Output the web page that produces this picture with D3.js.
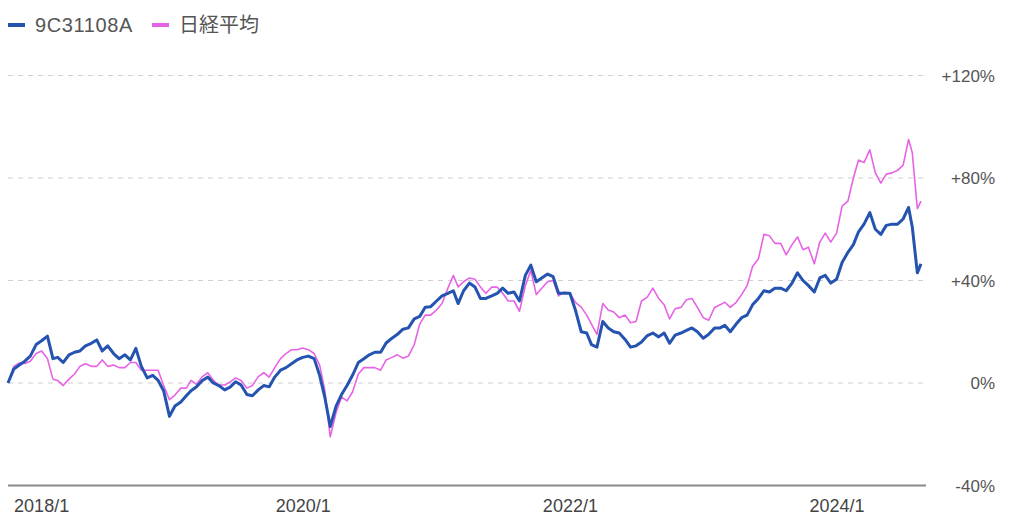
<!DOCTYPE html>
<html><head><meta charset="utf-8">
<script src="https://cdn.jsdelivr.net/npm/d3@7"></script>
<style>
body{margin:0;background:#fff}
svg{display:block}
text{font-family:"Liberation Sans",Arial,"Noto Sans CJK JP",sans-serif}
</style>
</head><body>
<svg id="chart" width="1024" height="524"></svg>
<script>
const seriesNames = ["9C31108A", "日経平均"];
const dates = [
"2017-10-16","2017-11-01","2017-11-16","2017-12-01","2017-12-16",
"2018-01-01","2018-01-16","2018-02-01","2018-02-16","2018-03-01","2018-03-16","2018-04-01","2018-04-16","2018-05-01","2018-05-16","2018-06-01","2018-06-16",
"2018-07-01","2018-07-16","2018-08-01","2018-08-16","2018-09-01","2018-09-16","2018-10-01","2018-10-16","2018-11-01","2018-11-16","2018-12-01","2018-12-16",
"2019-01-01","2019-01-16","2019-02-01","2019-02-16","2019-03-01","2019-03-16","2019-04-01","2019-04-16","2019-05-01","2019-05-16","2019-06-01","2019-06-16",
"2019-07-01","2019-07-16","2019-08-01","2019-08-16","2019-09-01","2019-09-16","2019-10-01","2019-10-16","2019-11-01","2019-11-16","2019-12-01","2019-12-16",
"2020-01-01","2020-01-16","2020-02-01","2020-02-16","2020-03-01","2020-03-16","2020-04-01","2020-04-16","2020-05-01","2020-05-16","2020-06-01","2020-06-16",
"2020-07-01","2020-07-16","2020-08-01","2020-08-16","2020-09-01","2020-09-16","2020-10-01","2020-10-16","2020-11-01","2020-11-16","2020-12-01","2020-12-16",
"2021-01-01","2021-01-16","2021-02-01","2021-02-16","2021-03-01","2021-03-16","2021-04-01","2021-04-16","2021-05-01","2021-05-16","2021-06-01","2021-06-16",
"2021-07-01","2021-07-16","2021-08-01","2021-08-16","2021-09-01","2021-09-16","2021-10-01","2021-10-16","2021-11-01","2021-11-16","2021-12-01","2021-12-16",
"2022-01-01","2022-01-16","2022-02-01","2022-02-16","2022-03-01","2022-03-16","2022-04-01","2022-04-16","2022-05-01","2022-05-16","2022-06-01","2022-06-16",
"2022-07-01","2022-07-16","2022-08-01","2022-08-16","2022-09-01","2022-09-16","2022-10-01","2022-10-16","2022-11-01","2022-11-16","2022-12-01","2022-12-16",
"2023-01-01","2023-01-16","2023-02-01","2023-02-16","2023-03-01","2023-03-16","2023-04-01","2023-04-16","2023-05-01","2023-05-16","2023-06-01","2023-06-16",
"2023-07-01","2023-07-16","2023-08-01","2023-08-16","2023-09-01","2023-09-16","2023-10-01","2023-10-16","2023-11-01","2023-11-16","2023-12-01","2023-12-16",
"2024-01-01","2024-01-16","2024-02-01","2024-02-16","2024-03-01","2024-03-16","2024-04-01","2024-04-16","2024-05-01","2024-05-16","2024-06-01","2024-06-16",
"2024-07-01","2024-07-16","2024-07-26","2024-08-09","2024-08-19"
];
const fundValues = [
0,5.5,7,8.5,10.5,
15,16.5,18.3,9.5,10,8,11,12,12.5,14.5,15.5,16.8,
12.5,14.5,11.5,9.5,11,9,13.5,6.5,2,3,1,-3,
-13,-9,-7.4,-5,-3,-1.5,1,2.3,0,-1,-2.7,-1.6,
0.5,-0.8,-4.5,-5,-2.7,-1,-1.5,2.3,5,6,7.5,9,
10,10.5,9.5,3,-5.5,-17,-9,-4.5,-1,3,8,9.5,
11,12,12,15.6,17.5,19,21,21.5,25,26,29.6,29.8,
32,34,35,36,31,36,39,37.5,33,33,34,35,
37,35,35.5,32,42,46,39.5,41,42.5,41.5,35,35,
35,28.5,20,19.5,15,14,24,21.5,20,19.5,17,14,
14.5,16,18.5,19.5,18,19.5,15.5,18.7,19.5,20.5,21.5,20,
17.5,19,21.5,21.5,22.5,20,23,25.5,26.5,30.5,33,36,
35.5,37,37,36,39,43,40,38,35.5,41,42,39,
40.5,47,51,54,59,62,66.5,60,58,61.5,62,62,
64,68.5,61,43,46.5
];
const nikkeiValues = [
0,6.5,7.8,7.6,8.5,
11.5,12.5,9.5,1.5,1,-1,1.5,3.5,6.5,7.5,6.5,6.5,
9,6.5,7,6,6,8,8,5,5,5,5,-1,
-6.5,-4.7,-2,-2,1,-0.5,2.5,4,1,-0.8,-0.8,0.4,
2,1,-2,-1,2.5,4,2.3,6,9.5,11.5,13,13,
13.7,13,11.5,7,-2.7,-21,-11.5,-5.5,-7,-3.5,3.5,6,
6,6,5,9,10,11,9.7,10.5,15,23,26.5,26.5,
28.5,31,37,42,37.5,39.5,41,40.5,37.5,35,37.4,37.4,
35,32,32,28,38,44,34.5,37,39.5,40,34,35.5,
35,31.5,29.6,26.5,23,19,31,28.5,27.7,25.5,26.5,23.5,
24,32,33.5,37,33,30.5,25,29,29.5,32.5,33,29.5,
25.5,24.5,29.5,30.5,31.5,29.5,31.5,34.5,38,45.5,48.5,58,
57.5,54.5,54.5,50,54,57,52,53,46.5,55,58.5,55,
58.5,69,71,80,87,86,91,82,78,81.5,82,83,
85,95,90,68,71
];
const yTickValues = [-40, 0, 40, 80, 120];
const xTickDates = ["2018-01-01", "2020-01-01", "2022-01-01", "2024-01-01"];
const colors = ["#2453b0", "#e763e6"];

const parse = d3.timeParse("%Y-%m-%d");
const dts = dates.map(parse);
const fund = dts.map((d, i) => ({date: d, v: fundValues[i]}));
const nikkei = dts.map((d, i) => ({date: d, v: nikkeiValues[i]}));

const svg = d3.select("#chart");
const x = d3.scaleTime().domain(d3.extent(dts)).range([8, 921]);
const y = d3.scaleLinear().domain([-40, 120]).range([485.5, 75.5]);
const gridLeft = 8, gridRight = 926;

// gridlines
svg.append("g").selectAll("line").data(yTickValues.filter(v => v !== -40)).join("line")
  .attr("x1", gridLeft).attr("x2", gridRight)
  .attr("y1", d => y(d)).attr("y2", d => y(d))
  .attr("stroke", "#cfcfcf").attr("stroke-width", 1).attr("stroke-dasharray", "5,5");
// baseline
svg.append("line").attr("x1", gridLeft).attr("x2", gridRight)
  .attr("y1", y(-40)).attr("y2", y(-40))
  .attr("stroke", "#8a8a8a").attr("stroke-width", 2);

// right axis labels
const fmt = v => v > 0 ? "+" + v + "%" : v + "%";
const yAxis = d3.axisRight(y).tickValues(yTickValues).tickFormat(fmt).tickSize(0).tickPadding(0);
const gy = svg.append("g").attr("transform", "translate(995,0)").call(yAxis);
gy.select(".domain").remove();
gy.selectAll("text").attr("text-anchor", "end").attr("fill", "#555")
  .style("font-size", "17px").attr("dy", "0.35em");

// bottom axis labels
const xAxis = d3.axisBottom(x).tickValues(xTickDates.map(parse))
  .tickFormat(d3.timeFormat("%Y/%-m")).tickSize(0).tickPadding(0);
const gx = svg.append("g").attr("transform", "translate(0,499)").call(xAxis);
gx.select(".domain").remove();
gx.selectAll("text").attr("fill", "#444").style("font-size", "18px").attr("dy", "0.71em")
  .attr("dx", (d, i) => i === 0 ? 5 : 0);

// lines
const line = d3.line().x(d => x(d.date)).y(d => y(d.v)).curve(d3.curveLinear);
svg.append("path").datum(nikkei).attr("d", line).attr("fill", "none")
  .attr("stroke", colors[1]).attr("stroke-width", 1.6).attr("stroke-linejoin", "round");
svg.append("path").datum(fund).attr("d", line).attr("fill", "none")
  .attr("stroke", colors[0]).attr("stroke-width", 3).attr("stroke-linejoin", "round");

// legend
const legendX = [8, 152];
const leg = svg.append("g");
seriesNames.forEach((name, i) => {
  leg.append("line").attr("x1", legendX[i]).attr("x2", legendX[i] + 17)
    .attr("y1", 25).attr("y2", 25).attr("stroke", colors[i]).attr("stroke-width", 4);
  leg.append("text").attr("x", legendX[i] + 27).attr("y", 25).attr("dy", "0.36em")
    .attr("fill", "#555").style("font-size", "20px").style("letter-spacing", i === 0 ? "0.6px" : "0px")
    .text(name);
});
</script>
</body></html>
